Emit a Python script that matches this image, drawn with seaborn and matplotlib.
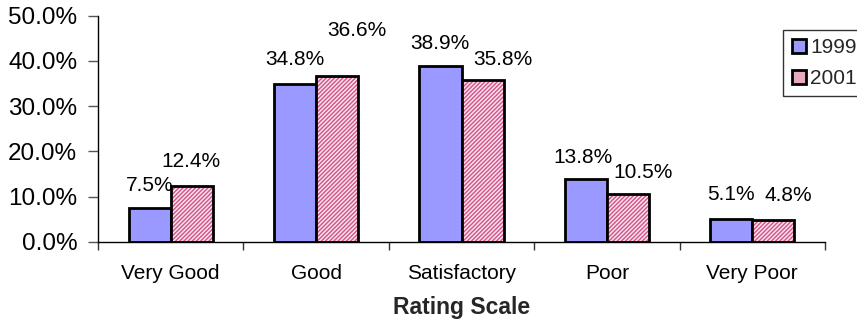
import matplotlib
matplotlib.use("Agg")
import matplotlib.pyplot as plt
from matplotlib.patches import Rectangle
from matplotlib.lines import Line2D
import seaborn as sns
import pandas as pd

categories = ["Very Good", "Good", "Satisfactory", "Poor", "Very Poor"]
years = ["1999", "2001"]
values_1999 = [7.5, 34.8, 38.9, 13.8, 5.1]
values_2001 = [12.4, 36.6, 35.8, 10.5, 4.8]

df = pd.DataFrame({
    "Rating": categories * 2,
    "Year": [years[0]] * len(categories) + [years[1]] * len(categories),
    "Share": values_1999 + values_2001,
})

sns.set_theme(style="white")
plt.rcParams["font.family"] = ["Liberation Sans", "DejaVu Sans"]

BLUE = "#9999FF"
HATCH = "#D4508A"
FS = 15

fig = plt.figure(figsize=(8.57, 3.30), dpi=100)
ax = fig.add_axes([98 / 857, 1 - 242 / 330, (825 - 98) / 857, (242 - 15.5) / 330])

sns.barplot(data=df, x="Rating", y="Share", hue="Year", order=categories,
            hue_order=years, palette=[BLUE, "white"], width=0.58, gap=0,
            edgecolor="black", linewidth=2, saturation=1, legend=False, ax=ax)

bars = [p for p in ax.patches if isinstance(p, Rectangle)]
bars_1999 = bars[:len(categories)]
bars_2001 = bars[len(categories):]

# hatched 2001 bars: fine pink diagonal fill, black outline drawn on top
plt.rcParams["hatch.linewidth"] = 1.0
for b in bars_2001:
    b.set_facecolor("#F6E4EC")
    b.set_edgecolor(HATCH)
    b.set_hatch("////////")
    b.set_linewidth(0)
    ax.add_patch(Rectangle(b.get_xy(), b.get_width(), b.get_height(),
                           fill=False, edgecolor="black", linewidth=2, zorder=b.get_zorder() + 0.1))

# value labels (offsets in pixels: dx, dy of text centre from bar top)
offsets_1999 = [(0, 22.5), (0, 25), (-1, 22), (-3, 21.5), (0, 24)]
offsets_2001 = [(-1, 24.5), (20, 46), (20, 20), (15, 22), (15, 25)]
px = 72 / 100
for blist, vals, offs in ((bars_1999, values_1999, offsets_1999),
                          (bars_2001, values_2001, offsets_2001)):
    for b, v, (dx, dy) in zip(blist, vals, offs):
        ax.annotate(f"{v:.1f}%", (b.get_x() + b.get_width() / 2, v),
                    xytext=(dx * px, dy * px), textcoords="offset points",
                    ha="center", va="center", fontsize=FS, color="black",
                    annotation_clip=False)

ax.set_ylim(0, 50)
ax.set_yticks([0, 10, 20, 30, 40, 50])
ax.set_yticklabels([f"{t:.1f}%" for t in [0, 10, 20, 30, 40, 50]])
ax.set_xlim(-0.5, len(categories) - 0.5)
ax.set_xticks(range(len(categories)))
ax.set_xticklabels(categories)
ax.set_xticks([i - 0.5 for i in range(len(categories) + 1)], minor=True)

ax.tick_params(axis="x", which="major", length=0, pad=16, labelsize=FS, colors="black")
ax.tick_params(axis="x", which="minor", length=6, width=1, color="#333333", direction="out", bottom=True)
ax.tick_params(axis="y", which="major", length=7, width=1, color="#555555", direction="out",
               pad=8, labelsize=17.5, left=True, labelcolor="black")

for side in ("top", "right"):
    ax.spines[side].set_visible(False)
for side in ("left", "bottom"):
    ax.spines[side].set_color("black")
    ax.spines[side].set_linewidth(1)

ax.set_ylabel("")
ax.set_xlabel("Rating Scale", fontsize=16.5, fontweight="bold", labelpad=9)

# legend
handles = [
    Line2D([], [], marker="s", linestyle="", markersize=10, markerfacecolor=BLUE,
           markeredgecolor="black", markeredgewidth=2),
    Line2D([], [], marker="s", linestyle="", markersize=10, markerfacecolor="#E7A9C1",
           markeredgecolor="black", markeredgewidth=2),
]
leg = fig.legend(handles, years, loc="upper left", bbox_to_anchor=(783 / 857, 1 - 30 / 330),
                 frameon=True, fancybox=False, fontsize=15, handlelength=0.75,
                 handletextpad=0.15, borderpad=0.4, labelspacing=0.55, borderaxespad=0)
leg.get_frame().set_edgecolor("black")
leg.get_frame().set_linewidth(1)

fig.savefig("out.png", dpi=100, facecolor="white")
